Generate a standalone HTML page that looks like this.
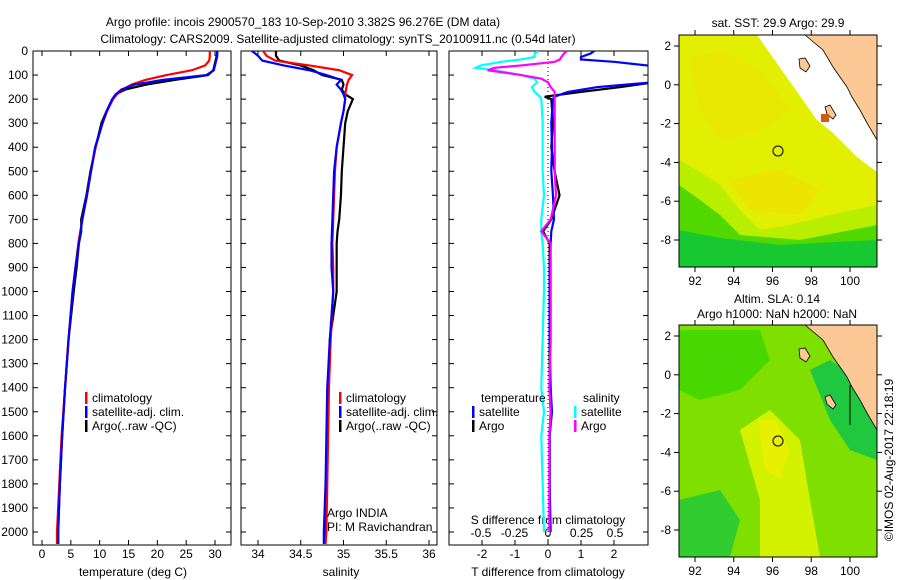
<!DOCTYPE html>
<html><head><meta charset="utf-8">
<style>
body{margin:0;background:#fff;}
svg{display:block;font-family:"Liberation Sans",sans-serif;}
text{font-size:12px;fill:#000;}
</style></head>
<body>
<svg id="fig" width="900" height="580" viewBox="0 0 900 580">
<text x="303" y="26" text-anchor="middle">Argo profile: incois 2900570_183 10-Sep-2010 3.382S 96.276E (DM data)</text>
<text x="338" y="43" text-anchor="middle">Climatology: CARS2009. Satellite-adjusted climatology: synTS_20100911.nc (0.54d later)</text>
<g id="plots"></g>
<!-- map 1 -->
<g>
<text x="778" y="27" text-anchor="middle">sat. SST: 29.9 Argo: 29.9</text>
<rect x="679" y="35" width="198" height="232" fill="#e2ef00"/>
<polygon points="690,60 720,50 760,70 790,110 760,130 720,140 700,110" fill="#ece600" opacity="0.7"/>
<polygon points="730,180 780,170 820,190 800,215 750,210" fill="#efe200" opacity="0.8"/>
<polygon points="679,160 700,172 720,185 740,210 760,230 790,225 830,215 877,205 877,267 679,267" fill="#b8ee00"/>
<polygon points="679,185 700,200 720,215 740,235 800,240 877,225 877,267 679,267" fill="#50d800"/>
<polygon points="679,230 720,238 780,245 877,240 877,267 679,267" fill="#18c830"/>
<polygon points="757,35 877,35 877,172 857,157 833,133 817,120" fill="#fff"/>
<polygon points="805,35 823,50 833,67 847,87 852,97 860,110 867,123 877,140 877,35" fill="#fcc896" stroke="#000" stroke-width="0.8"/>
<polygon points="799,59 805,58 810,66 806,72 800,68" fill="#fcc896" stroke="#000" stroke-width="0.8"/>
<polygon points="825,107 830,105 836,115 833,119 827,114" fill="#fcc896" stroke="#000" stroke-width="0.8"/>
<rect x="821" y="114" width="8" height="8" fill="#d85a00"/>
<circle cx="778" cy="151" r="5" fill="none" stroke="#000"/>
<rect x="679" y="35" width="198" height="232" fill="none" stroke="#000"/>
</g>
<!-- map 2 -->
<g>
<text x="777" y="303" text-anchor="middle">Altim. SLA: 0.14</text>
<text x="777" y="318" text-anchor="middle">Argo h1000: NaN h2000: NaN</text>
<rect x="679" y="325" width="198" height="232" fill="#7fe000"/>
<polygon points="679,330 760,330 770,360 740,390 700,400 679,390" fill="#48d800"/>
<polygon points="740,430 770,410 800,440 810,500 820,557 760,557 760,500" fill="#d2f200"/>
<polygon points="758,420 775,420 790,450 780,480 765,470" fill="#e6f000"/>
<polygon points="679,500 720,490 740,520 730,557 679,557" fill="#30cc30"/>
<polygon points="810,370 830,360 860,380 877,420 877,460 850,450 830,420" fill="#20c840"/>
<polygon points="805,325 823,340 833,357 847,377 852,387 860,400 867,413 877,430 877,325" fill="#fcc896" stroke="#000" stroke-width="0.8"/>
<polygon points="799,349 805,348 810,356 806,362 800,358" fill="#fcc896" stroke="#000" stroke-width="0.8"/>
<polygon points="825,397 830,395 836,405 833,409 827,404" fill="#fcc896" stroke="#000" stroke-width="0.8"/>
<line x1="850" y1="385" x2="850" y2="425" stroke="#000"/>
<circle cx="778" cy="441" r="5" fill="none" stroke="#000"/>
<rect x="679" y="325" width="198" height="232" fill="none" stroke="#000"/>
</g>
<text transform="translate(893,460) rotate(-90)" text-anchor="middle">©IMOS 02-Aug-2017 22:18:19</text>
</svg>
<script>
// ---- data ----
const depthsClim=[0,20,40,60,80,100,120,140,160,180,200,250,300,400,500,600,700,800,900,1000,1200,1400,1600,1800,2000,2050];
const tempClim=[29.1,29.1,29.0,28.3,26,21.6,18,15.5,14,13,12.3,11.3,10.5,9.3,8.5,7.8,7,6.3,5.8,5.3,4.6,4.0,3.4,3.0,2.6,2.6];
const tempSat=[30.4,30.4,30.2,30.0,29.8,28.5,21,16,13.8,12.8,12.2,11.2,10.5,9.2,8.5,7.8,7.0,6.4,5.8,5.3,4.6,4.0,3.5,3.1,2.8,2.8];
const depthsArgo=[0,20,40,60,80,100,120,140,160,180,200,250,300,400,500,600,700,750,800,900,1000,1200,1400,1600,1800,2000,2050];
const tempArgo=[30.4,30.3,30.1,29.9,29.7,28.8,23,18,14.5,12.8,12.2,11.2,10.3,9.3,8.4,7.7,6.8,6.8,6.4,6.0,5.5,4.6,4.0,3.5,3.1,2.8,2.8];
const salClim=[34.06,34.1,34.2,34.6,34.95,35.1,35.06,35.04,35.03,35.02,35.02,35.0,34.97,34.92,34.9,34.89,34.88,34.87,34.88,34.88,34.85,34.83,34.82,34.81,34.8,34.79];
const salSat=[33.93,34.0,34.05,34.3,34.6,34.8,34.97,34.92,34.97,35.0,35.02,35.0,34.97,34.92,34.89,34.88,34.87,34.86,34.86,34.88,34.84,34.81,34.8,34.79,34.77,34.77];
const salArgo=[34.21,34.21,34.25,34.5,34.65,34.75,34.98,35.0,34.98,35.02,35.11,35.05,35.02,35.0,34.98,34.97,34.95,34.93,34.92,34.92,34.92,34.84,34.82,34.81,34.8,34.78,34.78];
const depthsDiff=[0,10,25,35,45,60,70,80,100,115,130,150,170,190,200,300,400,500,600,700,750,800,900,1000,1200,1400,1500,1600,1800,2000];
const tdiffSat=[1.4,1.3,1.0,1.0,2.0,3.0,3.2,3.2,3.2,3.2,3.2,1.5,0.6,0.2,0.15,0.1,0.12,0.1,0.15,0.18,0.1,0.08,0.05,0.05,0.05,0.08,0.12,0.05,0.05,0.08];
const tdiffArgo=[3.2,3.2,3.2,3.2,3.2,3.2,3.2,3.2,3.2,3.2,3.2,2.2,1.0,-0.1,0.1,0.15,0.1,0.2,0.35,0.1,-0.15,0.05,0.05,0.05,0.05,0.05,0.08,0.05,0.05,0.05];
const sdiffSat=[-0.07,-0.1,-0.1,-0.2,-0.35,-0.5,-0.54,-0.4,-0.2,-0.1,-0.08,-0.12,-0.1,-0.06,-0.05,-0.04,-0.04,-0.04,-0.03,-0.05,-0.05,-0.04,-0.03,-0.03,-0.04,-0.05,-0.03,-0.05,-0.04,-0.03];
const sdiffArgo=[0.14,0.12,0.1,0.09,0.05,-0.2,-0.4,-0.45,-0.2,-0.05,0.0,0.02,0.05,0.05,0.05,0.05,0.05,0.05,0.06,0.02,-0.05,0.02,0.02,0.02,0.02,0.01,0.02,0.01,0.01,0.01];
const depthTicks=[0,100,200,300,400,500,600,700,800,900,1000,1100,1200,1300,1400,1500,1600,1700,1800,1900,2000];
const tempTicks=[0,5,10,15,20,25,30];
const salTicks=[34,34.5,35,35.5,36];
const tdTicks=[-2,-1,0,1,2];
const sdTicks=[-0.5,-0.25,0,0.25,0.5];
const sdTickLabels=["-0.5","-0.25","0","0.25","0.5"];

const NS="http://www.w3.org/2000/svg";
const G=document.getElementById('plots');
const top0=51,bot=545;
const yD=d=>top0+d*0.2405;
function mk(tag,attrs,parent){const e=document.createElementNS(NS,tag);for(const k in attrs)e.setAttribute(k,attrs[k]);(parent||G).appendChild(e);return e;}
function lin(d0,d1,p0,p1){return v=>p0+(v-d0)*(p1-p0)/(d1-d0);}
const xT=lin(0,30,42,215), xS=lin(34,36,258,429), xTD=lin(0,2,548,614), xSD=lin(0,0.5,548,615);

function panel(name,x0,x1,clip){
  const r=mk('rect',{x:x0,y:top0,width:x1-x0,height:bot-top0,fill:'none',stroke:'#000'});
  
  
  const cp=mk('clipPath',{id:clip});mk('rect',{x:x0,y:top0,width:x1-x0,height:bot-top0},cp);
  depthTicks.forEach(d=>{mk('line',{x1:x0,x2:x0+5,y1:yD(d),y2:yD(d),stroke:'#000'});mk('line',{x1:x1-5,x2:x1,y1:yD(d),y2:yD(d),stroke:'#000'});});
}
function xticks(ticks,fx,labels,ly,name){
  ticks.forEach((t,i)=>{const x=fx(t);
    mk('line',{x1:x,x2:x,y1:top0,y2:top0+5,stroke:'#000'});mk('line',{x1:x,x2:x,y1:bot-5,y2:bot,stroke:'#000'});
    const tx=mk('text',{x:x,y:ly,'text-anchor':'middle'});tx.textContent=labels?labels[i]:String(t);
    
    
  });
}
function line(depths,vals,fx,color,clip,name,w){
  const p=mk('polyline',{points:depths.map((d,i)=>fx(vals[i])+','+yD(d)).join(' '),fill:'none',stroke:color,'stroke-width':w||2.2,'clip-path':'url(#'+clip+')'});
  
  
}
function txt(x,y,s,name,anchor){const t=mk('text',{x:x,y:y,'text-anchor':anchor||'start'});t.textContent=s;
  
  return t;}
function leg(x,y,color,label,name){mk('rect',{x:x,y:y-10,width:2.5,height:12,fill:color});txt(x+7,y,label,name);}

// panel 1
panel('temperature-panel',33,231,'c1');
depthTicks.forEach(d=>txt(28,yD(d)+4,String(d),'depth-tick-label','end'));
xticks(tempTicks,xT,null,558,'temperature');
txt(133,576,'temperature (deg C)','temperature-axis-title','middle');
line(depthsArgo,tempArgo,xT,'#000','c1','temp-argo-line');
line(depthsClim,tempClim,xT,'#f00','c1','temp-climatology-line');
line(depthsClim,tempSat,xT,'#00f','c1','temp-satellite-line');
leg(85,402,'#f00','climatology','legend-climatology');
leg(85,416,'#00f','satellite-adj. clim.','legend-satellite');
leg(85,430,'#000','Argo(..raw -QC)','legend-argo');

// panel 2
panel('salinity-panel',241,437,'c2');
xticks(salTicks,xS,null,558,'salinity');
txt(341,576,'salinity','salinity-axis-title','middle');
line(depthsArgo,salArgo,xS,'#000','c2','sal-argo-line');
line(depthsClim,salClim,xS,'#f00','c2','sal-climatology-line');
line(depthsClim,salSat,xS,'#00f','c2','sal-satellite-line');
leg(339,402,'#f00','climatology','legend-climatology-2');
leg(339,416,'#00f','satellite-adj. clim.','legend-satellite-2');
leg(339,430,'#000','Argo(..raw -QC)','legend-argo-2');
txt(327,517,'Argo INDIA','argo-india-label');
txt(327,531,'PI: M Ravichandran','pi-label');

// panel 3
panel('difference-panel',449,648,'c3');
mk('line',{x1:548,x2:548,y1:top0,y2:bot,stroke:'#000','stroke-dasharray':'1,3'});
xticks(tdTicks,xTD,null,558,'t-difference');
sdTicks.forEach((t,i)=>txt(xSD(t),537,sdTickLabels[i],'s-difference-tick-label','middle'));
txt(548,524,'S difference from climatology','s-difference-axis-title','middle');
txt(548,576,'T difference from climatology','t-difference-axis-title','middle');
line(depthsDiff,tdiffArgo,xTD,'#000','c3','tdiff-argo-line');
line(depthsDiff,tdiffSat,xTD,'#00f','c3','tdiff-satellite-line');
line(depthsDiff,sdiffSat,xSD,'#0ff','c3','sdiff-satellite-line');
line(depthsDiff,sdiffArgo,xSD,'#f0f','c3','sdiff-argo-line');
txt(481,402,'temperature','legend-temperature-header');
txt(583,402,'salinity','legend-salinity-header');
leg(472,416,'#00f','satellite','legend-t-satellite');
leg(472,430,'#000','Argo','legend-t-argo');
leg(574,416,'#0ff','satellite','legend-s-satellite');
leg(574,430,'#f0f','Argo','legend-s-argo');

// map axes
const lonTicks=[92,94,96,98,100], latTicks=[2,0,-2,-4,-6,-8];
const xLon=lin(92,100,695,850);
[[35,267,46],[325,557,336]].forEach(([t,b,l2],mi)=>{
  const yLat=lin(2,-8,l2,l2+194);
  lonTicks.forEach(v=>{const x=xLon(v);mk('line',{x1:x,x2:x,y1:b,y2:b+5,stroke:'#000'});mk('line',{x1:x,x2:x,y1:t-5,y2:t,stroke:'#000'});
    txt(x,b+18,String(v),'map'+(mi+1)+'-lon-tick-label','middle');});
  latTicks.forEach(v=>{const y=yLat(v);mk('line',{x1:674,x2:679,y1:y,y2:y,stroke:'#000'});mk('line',{x1:877,x2:882,y1:y,y2:y,stroke:'#000'});
    txt(671,y+4,String(v),'map'+(mi+1)+'-lat-tick-label','end');});
});
</script>
</body></html>
